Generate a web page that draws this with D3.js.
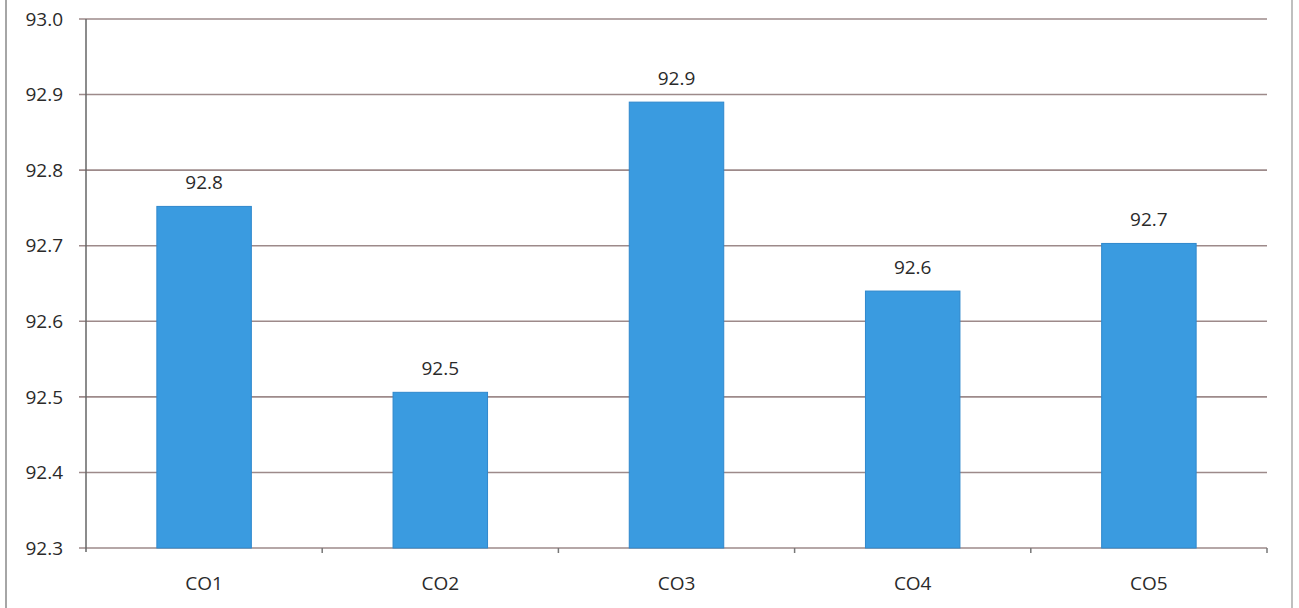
<!DOCTYPE html>
<html lang="en">
  <head>
    <meta charset="utf-8" />
    <script src="https://d3js.org/d3.v7.min.js"></script>
    <style type="text/css">
      body {
        margin: 0;
        background-color: white;
      }
      svg text {
        font-family: "Open Sans", "Liberation Sans", sans-serif;
        fill: #2a2a2a;
        font-size: 19px;
      }
    </style>
  </head>

  <body>
    <svg id="chart" width="1299" height="608"></svg>

    <script>
      let categories = ["CO1", "CO2", "CO3", "CO4", "CO5"];
      let values = [92.752, 92.506, 92.89, 92.64, 92.703];
      let labels = ["92.8", "92.5", "92.9", "92.6", "92.7"];
      let yTicks = [92.3, 92.4, 92.5, 92.6, 92.7, 92.8, 92.9, 93.0];

      let svg = d3.select("#chart");
      let plotLeft = 86, plotRight = 1267, plotTop = 19, plotBottom = 548;

      // outer frame
      svg.append("line")
        .attr("x1", 6).attr("x2", 6).attr("y1", 0).attr("y2", 608)
        .attr("stroke", "#888").attr("stroke-width", 1.5);
      svg.append("line")
        .attr("x1", 1292).attr("x2", 1292).attr("y1", 0).attr("y2", 608)
        .attr("stroke", "#aaa").attr("stroke-width", 1.5);

      let x = d3.scaleBand(categories, [plotLeft, plotRight]).paddingInner(0.6).paddingOuter(0.3);
      let xEdges = d3.scaleBand(categories, [plotLeft, plotRight]);
      let y = d3.scaleLinear([92.3, 93.0], [plotBottom, plotTop]);

      // gridlines
      svg.append("g")
        .selectAll("line")
        .data(yTicks)
        .enter()
        .append("line")
        .attr("x1", plotLeft - 7)
        .attr("x2", plotRight)
        .attr("y1", d => y(d))
        .attr("y2", d => y(d))
        .attr("stroke", "#9d8a8a")
        .attr("stroke-width", 1.6);

      // y tick labels
      svg.append("g")
        .selectAll("text")
        .data(yTicks)
        .enter()
        .append("text")
        .attr("x", 63)
        .attr("y", d => y(d))
        .attr("dy", "0.35em")
        .attr("text-anchor", "end")
        .text(d => d.toFixed(1));

      // y axis line
      svg.append("line")
        .attr("x1", plotLeft).attr("x2", plotLeft).attr("y1", plotTop).attr("y2", plotBottom + 4)
        .attr("stroke", "#666").attr("stroke-width", 1.5);

      // x ticks at band edges
      svg.append("g")
        .selectAll("line")
        .data(categories)
        .enter()
        .append("line")
        .attr("x1", d => xEdges(d) + xEdges.bandwidth())
        .attr("x2", d => xEdges(d) + xEdges.bandwidth())
        .attr("y1", plotBottom)
        .attr("y2", plotBottom + 5)
        .attr("stroke", "#777")
        .attr("stroke-width", 1.5);

      // bars
      svg.append("g")
        .selectAll("rect")
        .data(values)
        .enter()
        .append("rect")
        .attr("x", (d, i) => x(categories[i]))
        .attr("width", x.bandwidth())
        .attr("y", d => y(d))
        .attr("height", d => plotBottom - y(d))
        .attr("fill", "#3a9be0")
        .attr("stroke", "#2f88cc")
        .attr("stroke-width", 1);

      // value labels
      svg.append("g")
        .selectAll("text")
        .data(values)
        .enter()
        .append("text")
        .attr("x", (d, i) => x(categories[i]) + x.bandwidth() / 2)
        .attr("y", d => y(d) - 17)
        .attr("text-anchor", "middle")
        .text((d, i) => labels[i]);

      // category labels
      svg.append("g")
        .selectAll("text")
        .data(categories)
        .enter()
        .append("text")
        .attr("x", d => x(d) + x.bandwidth() / 2)
        .attr("y", 590)
        .attr("text-anchor", "middle")
        .text(d => d);
    </script>
  </body>
</html>
